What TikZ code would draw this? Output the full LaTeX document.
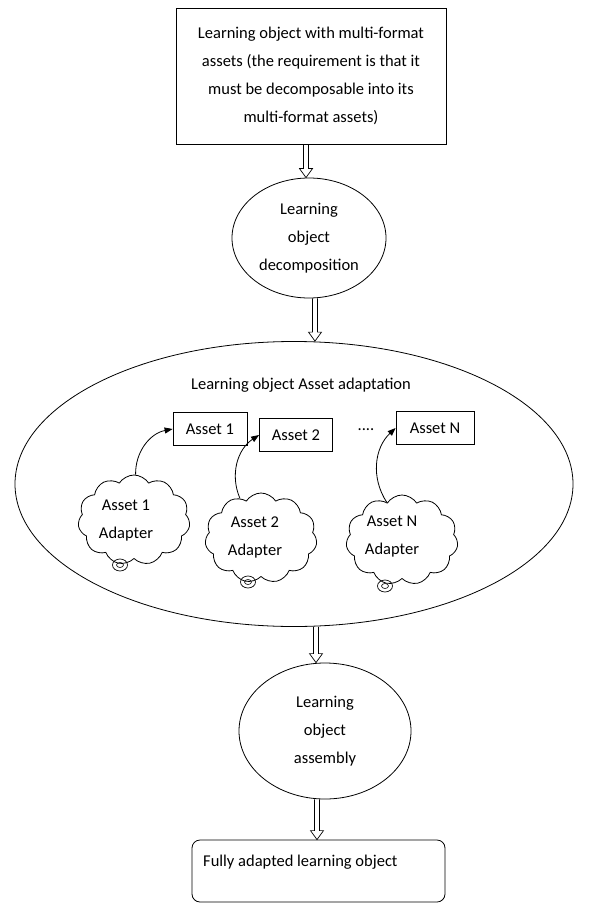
\documentclass[tikz,border=0pt]{standalone}
\usepackage{fontspec}
\setmainfont{Carlito}
\usetikzlibrary{shapes.geometric,shapes.symbols,arrows.meta,calc}
\begin{document}
\begin{tikzpicture}[x=1pt,y=1pt,
  every node/.style={font=\fontsize{16.5}{28}\selectfont, inner sep=0pt},
  boxnode/.style={draw, line width=0.8pt, rectangle},
  ellnode/.style={draw, line width=0.8pt, ellipse},
  cloudnode/.style={draw, line width=0.8pt, cloud, cloud puffs=11, cloud puff arc=115, aspect=1.25, minimum width=112, minimum height=90},
  bubble/.style={draw, line width=0.7pt, ellipse, minimum width=15, minimum height=12},
  bubblein/.style={draw, line width=0.6pt, ellipse, minimum width=7, minimum height=5},
  hollow/.style={line width=0.7pt, to path={let \p1=(\tikztostart), \p2=(\tikztotarget) in
     (\x1-2.5pt,\y1) -- (\x1-2.5pt,\y2+9pt) -- (\x1-6.5pt,\y2+9pt) -- (\x1,\y2) -- (\x1+6.5pt,\y2+9pt) -- (\x1+2.5pt,\y2+9pt) -- (\x1+2.5pt,\y1)}},
  curvy/.style={line width=0.8pt, -{Triangle[length=8pt,width=6pt]}}
]
\useasboundingbox (0,0) rectangle (589,-904);
\fill[white] (0,0) rectangle (589,-904);

% top box
\node[boxnode, minimum width=270, minimum height=136, align=center] (top) at (311,-76)
  {Learning object with multi-format\\assets (the requirement is that it\\must be decomposable into its\\multi-format assets)};

% decomposition ellipse
\node[ellnode, minimum width=154, minimum height=120, align=center] (dec) at (309,-238)
  {Learning\\object\\decomposition};

% big ellipse
\node[ellnode, minimum width=558, minimum height=285] (adapt) at (294,-484) {};
\node (adapttitle) at (301,-385) {Learning object Asset adaptation};

% asset boxes
\node[boxnode, minimum width=74, minimum height=33] (as1) at (210,-429) {Asset 1};
\node[boxnode, minimum width=73, minimum height=33] (as2) at (296,-435) {Asset 2};
\node (dots) at (366,-430) {....};
\node[boxnode, minimum width=78, minimum height=33] (asN) at (435,-428) {Asset N};

% clouds
\node[cloudnode] (c1) at (134,-520) {};
\node[align=center] (c1t) at (126,-521) {Asset 1\\Adapter};
\node[bubble] (b1) at (120,-565) {};
\node[bubblein] (b1i) at (120,-565) {};

\node[cloudnode] (c2) at (261,-538) {};
\node[align=center] (c2t) at (255,-537) {Asset 2\\Adapter};
\node[bubble] (b2) at (248,-582) {};
\node[bubblein] (b2i) at (248,-582) {};

\node[cloudnode] (cN) at (402,-540) {};
\node[align=center] (cNt) at (392,-537) {Asset N\\Adapter};
\node[bubble] (bN) at (385,-586) {};
\node[bubblein] (bNi) at (385,-586) {};

% curved arrows
\draw[curvy] (c1.88) to[bend left=40] (as1.west);
\draw[curvy] (c2.118) to[bend left=40] (as2.west);
\draw[curvy] (cN.112) to[bend left=40] (asN.west);

% assembly ellipse
\node[ellnode, minimum width=172, minimum height=136, align=center] (asm) at (325,-731)
  {Learning\\object\\assembly};

% final box
\node[draw, line width=0.8pt, rectangle, rounded corners=8pt, minimum width=253, minimum height=62] (full) at (318.5,-871) {};
\node[anchor=west] (fullt) at (203,-862) {Fully adapted learning object};

% hollow arrows
\draw[hollow] ([xshift=-5pt]top.south) to (dec.north);
\draw[hollow] ([xshift=6pt]dec.south) to (adapt.north);
\draw[hollow] ([xshift=22pt]adapt.south) to (asm.north);
\draw[hollow] ([xshift=-8pt]asm.south) to (full.north);
\end{tikzpicture}
\end{document}
